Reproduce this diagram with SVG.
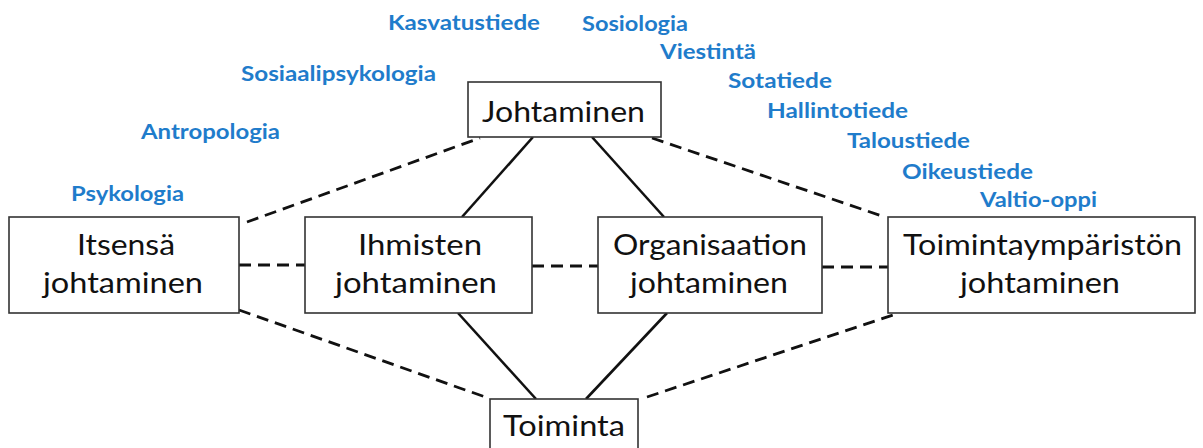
<svg xmlns="http://www.w3.org/2000/svg" width="1203" height="448" viewBox="0 0 1203 448">
  <style>
    .box { fill: #ffffff; stroke: #333333; stroke-width: 1.6; }
    .label { font-family: Lato, "Open Sans", "Liberation Sans", sans-serif; font-size: 29px; fill: #111111; text-anchor: middle; }
    .field { font-family: Lato, "Open Sans", "Liberation Sans", sans-serif; font-size: 21px; font-weight: bold; fill: #1f7ccb; }
    .solid { stroke: #111111; stroke-width: 2.6; fill: none; }
    .dash { stroke: #111111; stroke-width: 2.8; fill: none; stroke-dasharray: 12 7; }
  </style>
  <rect width="1203" height="448" fill="#ffffff"/>

  <!-- connectors -->
  <g id="connectors">
    <line class="solid" x1="533" y1="137" x2="462" y2="217"/>
    <line class="solid" x1="592" y1="137" x2="664" y2="217"/>
    <line class="solid" x1="458" y1="313" x2="536" y2="399"/>
    <line class="solid" x1="667" y1="313" x2="586" y2="399"/>
    <line class="dash" x1="247" y1="222" x2="480" y2="138"/>
    <line class="dash" x1="652" y1="138" x2="885" y2="217"/>
    <line class="dash" x1="239" y1="265" x2="305" y2="265"/>
    <line class="dash" x1="532" y1="266" x2="598" y2="266"/>
    <line class="dash" x1="822" y1="267" x2="888" y2="267"/>
    <line class="dash" x1="239" y1="310" x2="488" y2="398"/>
    <line class="dash" x1="647" y1="397" x2="893" y2="315"/>
  </g>

  <!-- boxes -->
  <g id="johtaminen">
    <rect class="box" x="468" y="82" width="193" height="55"/>
    <text class="label" x="563.5" y="122" textLength="163" lengthAdjust="spacingAndGlyphs">Johtaminen</text>
  </g>
  <g id="itsensa">
    <rect class="box" x="9" y="217" width="230" height="96"/>
    <text class="label" x="126" y="255" textLength="98" lengthAdjust="spacingAndGlyphs">Itsensä</text>
    <text class="label" x="123" y="293" textLength="160" lengthAdjust="spacingAndGlyphs">johtaminen</text>
  </g>
  <g id="ihmisten">
    <rect class="box" x="305" y="217" width="227" height="96"/>
    <text class="label" x="420" y="255" textLength="124" lengthAdjust="spacingAndGlyphs">Ihmisten</text>
    <text class="label" x="416" y="293" textLength="162" lengthAdjust="spacingAndGlyphs">johtaminen</text>
  </g>
  <g id="organisaation">
    <rect class="box" x="598" y="217" width="224" height="96"/>
    <text class="label" x="710" y="255" textLength="194" lengthAdjust="spacingAndGlyphs">Organisaation</text>
    <text class="label" x="709" y="293" textLength="158" lengthAdjust="spacingAndGlyphs">johtaminen</text>
  </g>
  <g id="toimintaymparisto">
    <rect class="box" x="888" y="217" width="307" height="96"/>
    <text class="label" x="1042.5" y="255" textLength="279" lengthAdjust="spacingAndGlyphs">Toimintaympäristön</text>
    <text class="label" x="1040" y="293" textLength="160" lengthAdjust="spacingAndGlyphs">johtaminen</text>
  </g>
  <g id="toiminta">
    <rect class="box" x="490" y="399" width="148" height="60"/>
    <text class="label" x="564" y="436" textLength="122" lengthAdjust="spacingAndGlyphs">Toiminta</text>
  </g>

  <!-- disciplines -->
  <g id="fields">
    <text class="field" x="388" y="30" textLength="152" lengthAdjust="spacingAndGlyphs">Kasvatustiede</text>
    <text class="field" x="241" y="81" textLength="195" lengthAdjust="spacingAndGlyphs">Sosiaalipsykologia</text>
    <text class="field" x="141" y="139" textLength="139" lengthAdjust="spacingAndGlyphs">Antropologia</text>
    <text class="field" x="71" y="201" textLength="113" lengthAdjust="spacingAndGlyphs">Psykologia</text>
    <text class="field" x="582" y="31" textLength="106" lengthAdjust="spacingAndGlyphs">Sosiologia</text>
    <text class="field" x="660" y="59" textLength="96" lengthAdjust="spacingAndGlyphs">Viestintä</text>
    <text class="field" x="728" y="88" textLength="104" lengthAdjust="spacingAndGlyphs">Sotatiede</text>
    <text class="field" x="767" y="118" textLength="141" lengthAdjust="spacingAndGlyphs">Hallintotiede</text>
    <text class="field" x="847" y="148" textLength="123" lengthAdjust="spacingAndGlyphs">Taloustiede</text>
    <text class="field" x="902" y="179" textLength="131" lengthAdjust="spacingAndGlyphs">Oikeustiede</text>
    <text class="field" x="980" y="207" textLength="117" lengthAdjust="spacingAndGlyphs">Valtio-oppi</text>
  </g>
</svg>
